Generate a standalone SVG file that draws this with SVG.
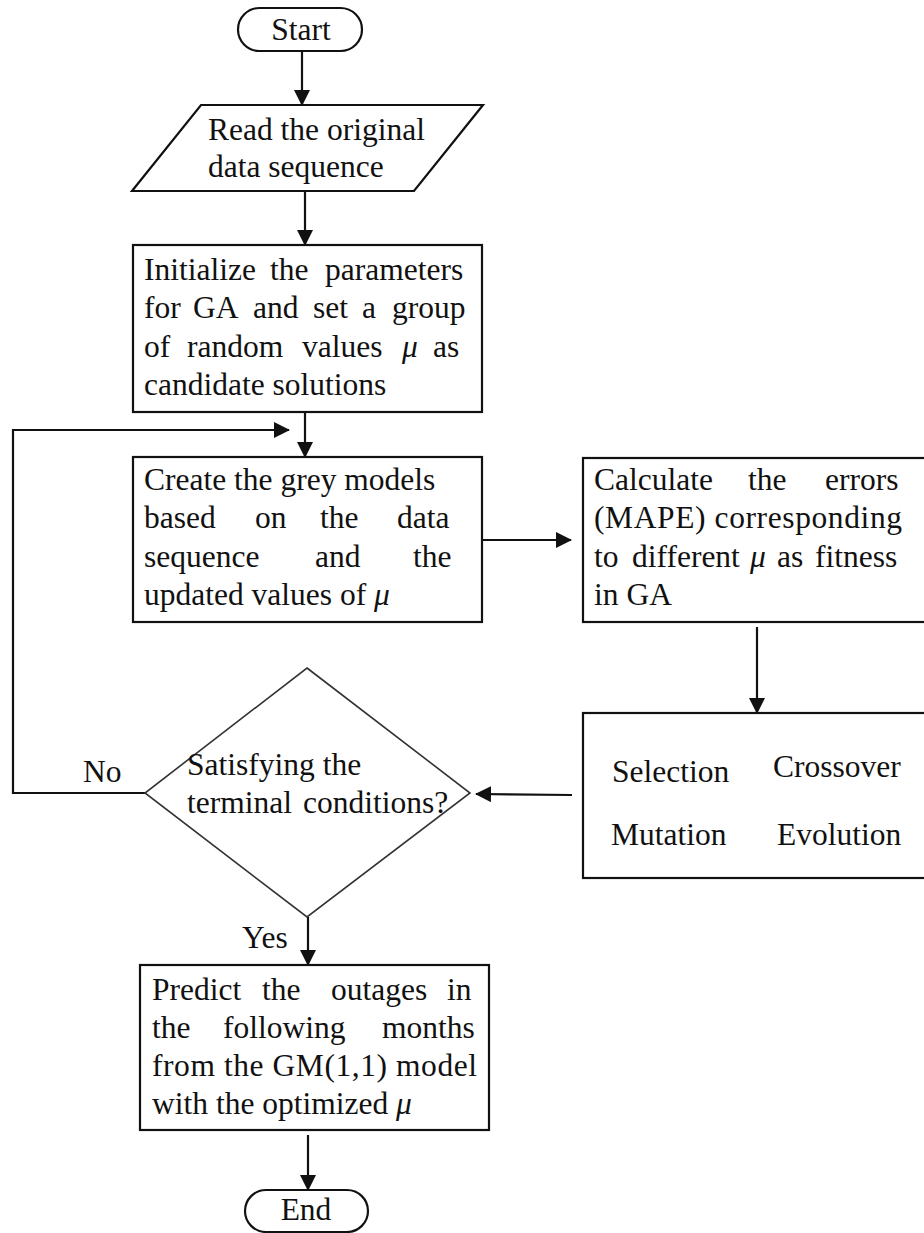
<svg xmlns="http://www.w3.org/2000/svg" width="924" height="1233" viewBox="0 0 924 1233">
<style>
.s{fill:#fff;stroke:#111;stroke-width:2.2}
.d{fill:#fff;stroke:#333;stroke-width:1.6}
text{font-family:"Liberation Serif","Times New Roman",serif;font-size:31.5px;fill:#111}
.m{font-style:italic}
.c{stroke:#111;stroke-width:2.2;fill:none}
</style>
<defs>
<marker id="ah" markerWidth="16" markerHeight="16" refX="15" refY="8" orient="auto" markerUnits="userSpaceOnUse">
<path d="M0,0 L16,8 L0,16 Z" fill="#111"/>
</marker>
</defs>
<g id="connectors">
<line class="c" x1="302" y1="51" x2="302" y2="105" marker-end="url(#ah)"/>
<line class="c" x1="305" y1="191" x2="305" y2="245" marker-end="url(#ah)"/>
<line class="c" x1="305" y1="412" x2="305" y2="457" marker-end="url(#ah)"/>
<polyline class="c" points="145,793 13,793 13,430 289,430" marker-end="url(#ah)"/>
<line class="c" x1="482" y1="540" x2="571" y2="540" marker-end="url(#ah)"/>
<line class="c" x1="757" y1="627" x2="757" y2="713" marker-end="url(#ah)"/>
<line class="c" x1="572" y1="795" x2="476" y2="794" marker-end="url(#ah)"/>
<line class="c" x1="308" y1="917" x2="308" y2="965" marker-end="url(#ah)"/>
<line class="c" x1="308" y1="1135" x2="308" y2="1190" marker-end="url(#ah)"/>
<text x="83" y="782">No</text>
<text x="242" y="948">Yes</text>
</g>
<g id="start">
<rect class="s" x="238" y="8" width="124" height="43" rx="21.5"/>
<text x="301" y="40" text-anchor="middle">Start</text>
</g>
<g id="read">
<polygon class="s" points="201,105 483,105 414,191 132,191"/>
<text x="208" y="140">Read the original</text>
<text x="208" y="177">data sequence</text>
</g>
<g id="init">
<rect class="s" x="133" y="245" width="349" height="167"/>
<text y="280"><tspan x="144">Initialize</tspan><tspan x="270">the</tspan><tspan x="325">parameters</tspan></text>
<text y="318"><tspan x="144">for</tspan><tspan x="193">GA</tspan><tspan x="253">and</tspan><tspan x="313">set</tspan><tspan x="362">a</tspan><tspan x="392">group</tspan></text>
<text y="357"><tspan x="144">of</tspan><tspan x="187">random</tspan><tspan x="302">values</tspan><tspan x="402" class="m">μ</tspan><tspan x="433">as</tspan></text>
<text x="144" y="395">candidate solutions</text>
</g>
<g id="create">
<rect class="s" x="133" y="457" width="349" height="165"/>
<text x="144" y="490">Create the grey models</text>
<text y="528"><tspan x="144">based</tspan><tspan x="255">on</tspan><tspan x="320">the</tspan><tspan x="397">data</tspan></text>
<text y="567"><tspan x="144">sequence</tspan><tspan x="315">and</tspan><tspan x="413">the</tspan></text>
<text x="144" y="605">updated values of <tspan class="m">μ</tspan></text>
</g>
<g id="calc">
<rect class="s" x="583" y="458" width="345" height="164"/>
<text y="490"><tspan x="594">Calculate</tspan><tspan x="748">the</tspan><tspan x="825">errors</tspan></text>
<text x="594" y="528" textLength="308" lengthAdjust="spacing">(MAPE) corresponding</text>
<text y="567"><tspan x="594">to</tspan><tspan x="632">different</tspan><tspan x="750" class="m">μ</tspan><tspan x="777">as</tspan><tspan x="815">fitness</tspan></text>
<text x="594" y="605">in GA</text>
</g>
<g id="ga">
<rect class="s" x="583" y="713" width="345" height="165"/>
<text x="612" y="782">Selection</text>
<text x="773" y="777">Crossover</text>
<text x="611" y="845">Mutation</text>
<text x="777" y="845">Evolution</text>
</g>
<g id="decision">
<polygon class="d" points="307,668 470,793 307,917 145,793"/>
<text x="187" y="775">Satisfying the</text>
<text x="187" y="813"><tspan x="187">terminal</tspan><tspan x="303">conditions?</tspan></text>
</g>
<g id="predict">
<rect class="s" x="140" y="965" width="349" height="165"/>
<text y="1000"><tspan x="152">Predict</tspan><tspan x="262">the</tspan><tspan x="331">outages</tspan><tspan x="447">in</tspan></text>
<text y="1038"><tspan x="152">the</tspan><tspan x="223">following</tspan><tspan x="382">months</tspan></text>
<text x="152" y="1076" textLength="325" lengthAdjust="spacing">from the GM(1,1) model</text>
<text x="152" y="1114">with the optimized <tspan class="m">μ</tspan></text>
</g>
<g id="end">
<rect class="s" x="245" y="1190" width="123" height="42" rx="21"/>
<text x="306" y="1220" text-anchor="middle">End</text>
</g>
</svg>
